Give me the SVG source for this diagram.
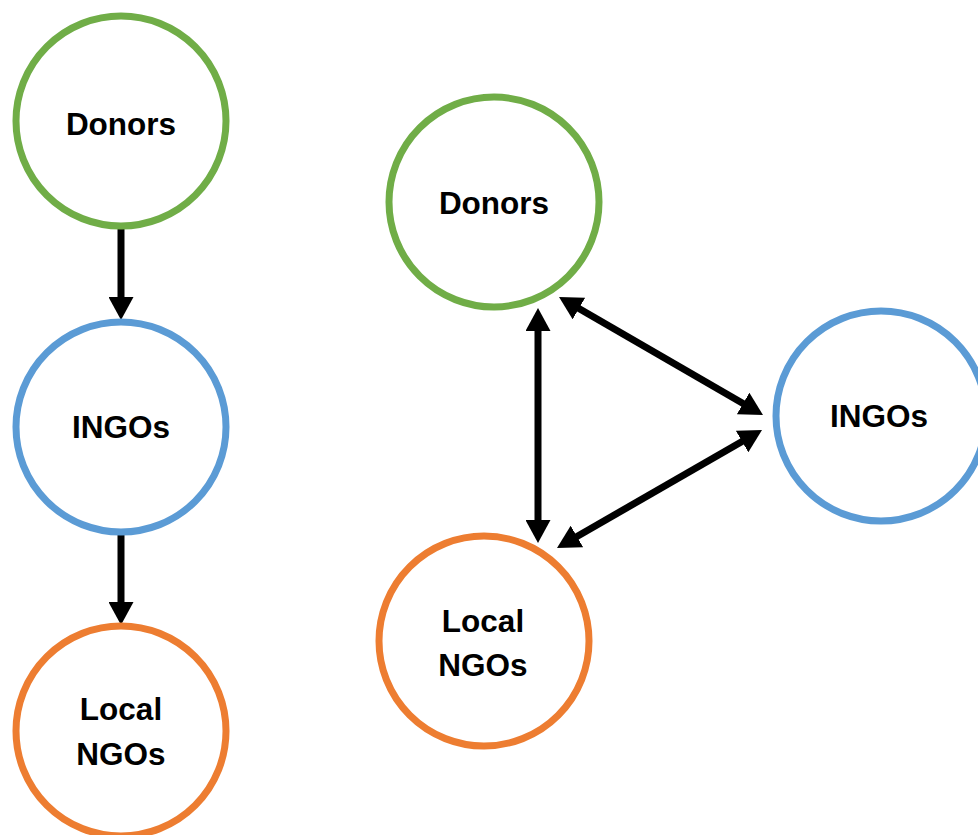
<svg xmlns="http://www.w3.org/2000/svg" width="978" height="835" viewBox="0 0 978 835">
<style>
.n{fill:#fff;stroke-width:7}
.g{stroke:#70AD47}.b{stroke:#5B9BD5}.o{stroke:#ED7D31}
.t{font-family:"Liberation Sans",Arial,sans-serif;font-weight:bold;font-size:31.5px;fill:#000;text-anchor:middle}
.c{stroke:#000;stroke-width:7;fill:none}
</style>
<defs>
<marker id="ah" markerUnits="userSpaceOnUse" markerWidth="23" markerHeight="25" refX="11" refY="12.5" orient="auto-start-reverse" viewBox="0 0 23 25">
<path d="M0,0 L23,12.5 L0,25 z" fill="#000"/>
</marker>
</defs>
<rect width="978" height="835" fill="#fff"/>
<g id="connectors">
<line class="c" x1="121" y1="227" x2="121" y2="308" marker-end="url(#ah)"/>
<line class="c" x1="121" y1="533" x2="121" y2="613" marker-end="url(#ah)"/>
<line class="c" x1="538" y1="320" x2="538" y2="531" marker-start="url(#ah)" marker-end="url(#ah)"/>
<line class="c" x1="569.4" y1="303" x2="752.6" y2="409" marker-start="url(#ah)" marker-end="url(#ah)"/>
<line class="c" x1="751.6" y1="436" x2="567.4" y2="542" marker-start="url(#ah)" marker-end="url(#ah)"/>
</g>
<g id="donors-left"><circle class="n g" cx="121" cy="121" r="105"/><text class="t" x="121" y="135">Donors</text></g>
<g id="ingos-left"><circle class="n b" cx="121" cy="427" r="105"/><text class="t" x="121" y="438">INGOs</text></g>
<g id="local-left"><circle class="n o" cx="121" cy="731" r="105"/><text class="t" x="121" y="720">Local</text><text class="t" x="121" y="765">NGOs</text></g>
<g id="donors-right"><circle class="n g" cx="494" cy="202" r="105"/><text class="t" x="494" y="214">Donors</text></g>
<g id="ingos-right"><circle class="n b" cx="881" cy="416" r="105"/><text class="t" x="879" y="427">INGOs</text></g>
<g id="local-right"><circle class="n o" cx="484" cy="641" r="105"/><text class="t" x="483" y="632">Local</text><text class="t" x="483" y="676">NGOs</text></g>
</svg>
